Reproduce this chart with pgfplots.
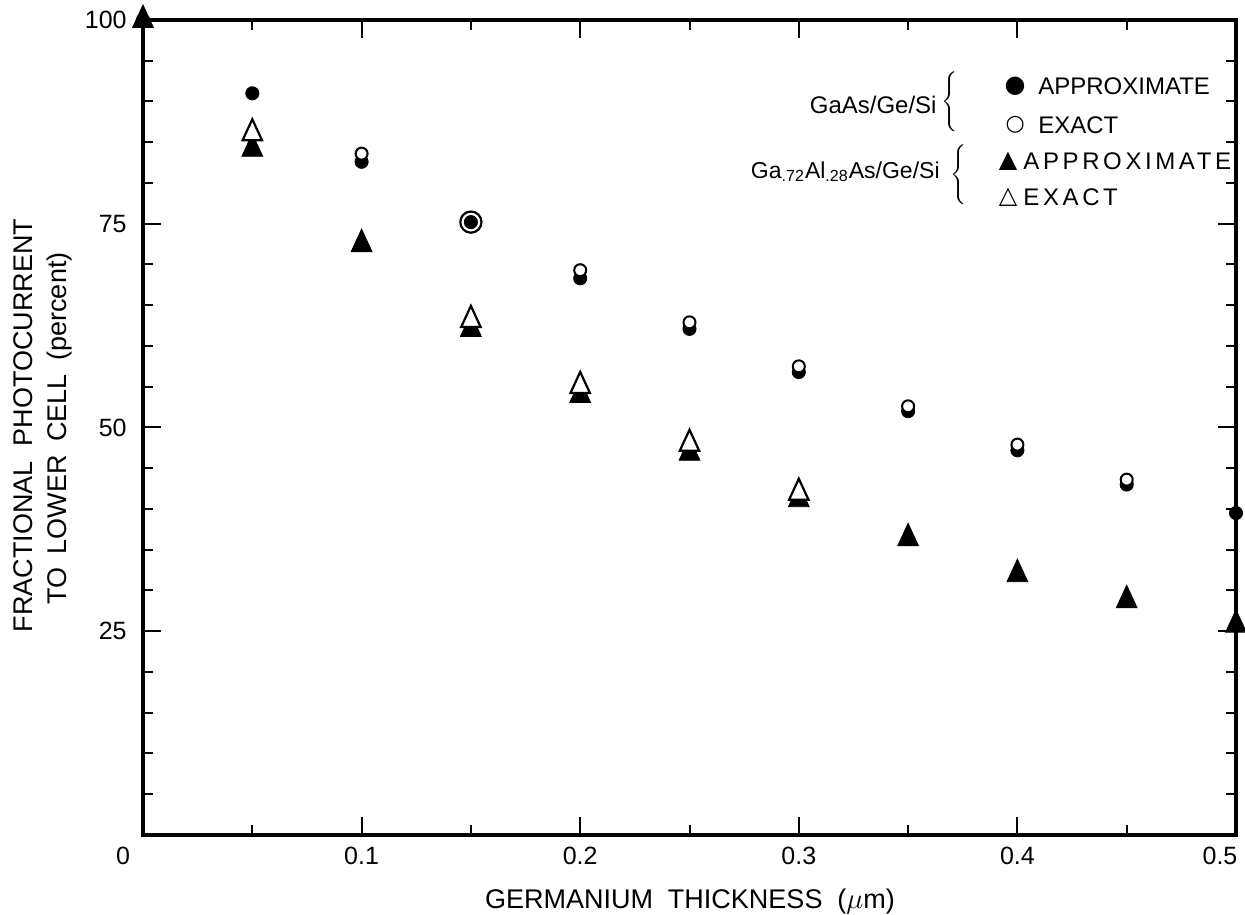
\documentclass[border=0pt]{standalone}
\usepackage{pgfplots}
\pgfplotsset{compat=1.18}
\usepackage{fontspec}
\setmainfont{Liberation Sans}
\newfontfamily\sym{DejaVu Sans}
\newfontfamily\wide[LetterSpace=15]{Liberation Sans}
\newcommand\tlfont{\fontsize{12.5}{14}\selectfont}
\begin{document}
\begin{tikzpicture}
\path[use as bounding box] (-71.5pt,-39.5pt) rectangle (551pt,417.5pt);
\begin{axis}[
  at={(0,0)}, anchor=south west,
  scale only axis, width=546.5pt, height=407.5pt,
  xmin=0, xmax=0.5, ymin=0, ymax=100,
  clip=false,
  xtick={0,0.1,0.2,0.3,0.4,0.5},
  xticklabels={{\tlfont 0\kern20pt},{\tlfont 0.1},{\tlfont 0.2},{\tlfont 0.3},{\tlfont 0.4},{\tlfont 0.5\kern16pt}},
  minor xtick={0.05,0.15,0.25,0.35,0.45},
  ytick={25,50,75,100},
  yticklabels={{\tlfont 25},{\tlfont 50},{\tlfont 75},{\tlfont 100}},
  minor ytick={5,10,15,20,30,35,40,45,55,60,65,70,80,85,90,95},
  tick style={line width=1pt, black},
  major tick length=9pt, minor tick length=5pt,
  axis line style={line width=1.8pt},
  xticklabel style={anchor=base, yshift=-15pt},
  yticklabel style={anchor=east, inner sep=0pt, xshift=-8pt},
]
% GaAs/Ge/Si approximate
\addplot[only marks, mark=*, mark size=3.3pt, black] coordinates {
  (0,100) (0.05,91.0) (0.1,82.6) (0.15,75.2) (0.2,68.3) (0.25,62.1)
  (0.3,56.8) (0.35,52.0) (0.4,47.2) (0.45,43.0) (0.5,39.5)};
% GaAs/Ge/Si exact
\addplot[only marks, mark=*, mark size=3pt, mark options={fill=white, draw=black, line width=1pt}] coordinates {
  (0.1,83.6) (0.2,69.3) (0.25,62.9) (0.3,57.5) (0.35,52.6) (0.4,47.9) (0.45,43.6)};
\addplot[only marks, mark=o, mark size=5.3pt, mark options={draw=black, line width=1.1pt}] coordinates {(0.15,75.2)};
% GaAlAs approximate
\addplot[only marks, mark=triangle*, mark size=6pt, mark options={yscale=1.25, fill=black, draw=black}] coordinates {
  (0,100) (0.05,84.2) (0.1,72.5) (0.15,62.1) (0.2,54.0) (0.25,46.9)
  (0.3,41.2) (0.35,36.4) (0.4,32.0) (0.45,28.8) (0.5,25.8)};
% GaAlAs exact
\addplot[only marks, mark=triangle*, mark size=5.6pt, mark options={yscale=1.25, fill=white, draw=black, line width=1.1pt}] coordinates {
  (0.05,86.1) (0.15,63.2) (0.2,55.1) (0.25,48.0) (0.3,42.0)};
% legend
\node[anchor=east, inner sep=0pt, font=\fontsize{12}{14}\selectfont] at (axis cs:0.3632,89.6) {GaAs/Ge/Si};
\node[inner sep=0pt] at (axis cs:0.3696,89.9) {$\left\{\vrule height 13pt depth 13pt width 0pt\right.$};
\node[inner sep=0pt, font=\sym\fontsize{12}{14}\selectfont] at (axis cs:0.399,91.9) {●};
\node[anchor=west, inner sep=0pt, font=\fontsize{12}{14}\selectfont] at (axis cs:0.4094,91.9) {APPROXIMATE};
\node[inner sep=0pt, font=\sym\bfseries\fontsize{11}{14}\selectfont] at (axis cs:0.399,87.1) {○};
\node[anchor=west, inner sep=0pt, font=\fontsize{12}{14}\selectfont] at (axis cs:0.4094,87.1) {EXACT};
\node[anchor=base east, inner sep=0pt, font=\fontsize{11.5}{14}\selectfont] at (axis cs:0.3646,80.6) {Ga\textsubscript{.72}Al\textsubscript{.28}As/Ge/Si};
\node[inner sep=0pt] at (axis cs:0.3737,81.0) {$\left\{\vrule height 13pt depth 13pt width 0pt\right.$};
\node[inner sep=0pt, font=\sym\fontsize{12}{15}\selectfont] at (axis cs:0.3957,82.7) {▲};
\node[anchor=west, inner sep=0pt, font=\wide\fontsize{12}{14}\selectfont] at (axis cs:0.4026,82.7) {APPROXIMATE};
\node[inner sep=0pt, font=\sym\bfseries\fontsize{12}{15}\selectfont] at (axis cs:0.3957,78.3) {△};
\node[anchor=west, inner sep=0pt, font=\wide\fontsize{12}{14}\selectfont] at (axis cs:0.4026,78.3) {EXACT};
\end{axis}
\node[anchor=base, inner sep=0pt, font=\fontsize{13.5}{16}\selectfont] at (273.5pt,-36.5pt) {GERMANIUM\hspace{0.55em}THICKNESS\hspace{0.55em}($\mu$m)};
\node[rotate=90, anchor=base, inner sep=0pt, font=\fontsize{13.5}{16}\selectfont] at (-55pt,204.75pt) {FRACTIONAL\hspace{0.55em}PHOTOCURRENT};
\node[rotate=90, anchor=base, inner sep=0pt, font=\fontsize{13.5}{16}\selectfont] at (-38pt,203.25pt) {TO\hspace{0.5em}LOWER\hspace{0.5em}CELL\hspace{0.5em}(percent)};
\end{tikzpicture}
\end{document}
